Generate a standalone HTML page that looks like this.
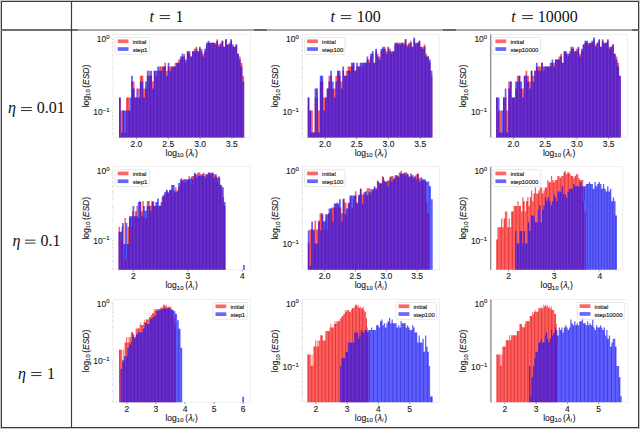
<!DOCTYPE html><html><head><meta charset="utf-8"><style>html,body{margin:0;padding:0;background:#fff;overflow:hidden}svg{display:block}</style></head><body>
<svg width="640" height="429" viewBox="0 0 640 429" font-family="Liberation Sans, sans-serif">
<rect x="0" y="0" width="640" height="429" fill="#fff"/>
<clipPath id="c00"><rect x="113" y="34.5" width="137.5" height="103"/></clipPath>
<rect x="113" y="34.5" width="137.5" height="103" fill="none" stroke="#ececec" stroke-width="0.8"/>
<path fill="rgba(255,0,0,0.63)" clip-path="url(#c00)" d="M119.01 139.5V97.59H120.75V110.43H122.49V110.43H124.23V132.38H125.96V97.59H127.7V97.59H129.44V110.43H131.18V81.42H132.92V81.42H134.66V97.59H136.39V97.59H138.13V88.49H139.87V75.65H141.61V75.65H143.35V88.49H145.09V88.49H146.83V75.65H148.56V70.77H150.3V75.65H152.04V81.42H153.78V70.77H155.52V75.65H157.26V70.77H158.99V66.54H160.73V66.54H162.47V66.54H164.21V62.81H165.95V70.77H167.69V66.54H169.43V66.54H171.16V66.54H172.9V66.54H174.64V62.81H176.38V62.81H178.12V59.48H179.86V59.48H181.6V56.46H183.33V53.7H185.07V62.81H186.81V51.17H188.55V53.7H190.29V56.46H192.03V51.17H193.76V48.82H195.5V46.64H197.24V51.17H198.98V48.82H200.72V48.82H202.46V53.7H204.2V51.17H205.93V44.6H207.67V42.68H209.41V42.68H211.15V42.68H212.89V42.68H214.63V42.68H216.36V39.15H218.1V44.6H219.84V42.68H221.58V40.87H223.32V46.64H225.06V39.15H226.8V44.6H228.53V42.68H230.27V40.87H232.01V46.64H233.75V46.64H235.49V44.6H237.23V53.7H238.96V56.46H240.7V62.81H242.44V75.65H244.18V139.5Z"/>
<path fill="none" stroke="rgba(170,0,0,0.55)" stroke-width="0.7" clip-path="url(#c00)" d="M127.7 97.59V110.43M141.61 75.65V81.42M160.73 66.54V70.77"/>
<path fill="rgba(0,0,255,0.63)" clip-path="url(#c00)" d="M119.01 139.5V97.59H120.75V132.38H122.49V110.43H124.23V110.43H125.96V110.43H127.7V110.43H129.44V97.59H131.18V75.65H132.92V88.49H134.66V97.59H136.39V88.49H138.13V97.59H139.87V81.42H141.61V81.42H143.35V97.59H145.09V81.42H146.83V70.77H148.56V75.65H150.3V70.77H152.04V88.49H153.78V70.77H155.52V70.77H157.26V66.54H158.99V70.77H160.73V70.77H162.47V66.54H164.21V66.54H165.95V75.65H167.69V62.81H169.43V70.77H171.16V66.54H172.9V66.54H174.64V66.54H176.38V62.81H178.12V62.81H179.86V56.46H181.6V53.7H183.33V56.46H185.07V59.48H186.81V51.17H188.55V51.17H190.29V56.46H192.03V51.17H193.76V51.17H195.5V48.82H197.24V51.17H198.98V46.64H200.72V51.17H202.46V56.46H204.2V48.82H205.93V42.68H207.67V40.87H209.41V42.68H211.15V42.68H212.89V42.68H214.63V44.6H216.36V40.87H218.1V46.64H219.84V44.6H221.58V40.87H223.32V46.64H225.06V39.15H226.8V44.6H228.53V44.6H230.27V39.15H232.01V44.6H233.75V46.64H235.49V44.6H237.23V53.7H238.96V59.48H240.7V66.54H242.44V81.42H244.18V139.5Z"/>
<path fill="none" stroke="rgba(255,255,255,0.13)" stroke-width="0.8" clip-path="url(#c00)" d="M120.75 132.38V137.5M124.23 132.38V137.5M127.7 110.43V137.5M131.18 110.43V137.5M134.66 97.59V137.5M138.13 97.59V137.5M141.61 81.42V137.5M145.09 97.59V137.5M148.56 75.65V137.5M152.04 88.49V137.5M155.52 75.65V137.5M158.99 70.77V137.5M162.47 70.77V137.5M165.95 75.65V137.5M169.43 70.77V137.5M172.9 66.54V137.5M176.38 66.54V137.5M179.86 62.81V137.5M183.33 56.46V137.5M186.81 62.81V137.5M190.29 56.46V137.5M193.76 51.17V137.5M197.24 51.17V137.5M200.72 51.17V137.5M204.2 56.46V137.5M207.67 44.6V137.5M211.15 42.68V137.5M214.63 44.6V137.5M218.1 46.64V137.5M221.58 44.6V137.5M225.06 46.64V137.5M228.53 44.6V137.5M232.01 46.64V137.5M235.49 46.64V137.5M238.96 59.48V137.5M242.44 81.42V137.5"/>
<line x1="136.4" y1="137.5" x2="136.4" y2="139.1" stroke="#444" stroke-width="0.6"/>
<text x="136.4" y="147" font-size="8.5" text-anchor="middle" fill="#1a1a1a" stroke="#1a1a1a" stroke-width="0.12">2.0</text>
<line x1="168.25" y1="137.5" x2="168.25" y2="139.1" stroke="#444" stroke-width="0.6"/>
<text x="168.25" y="147" font-size="8.5" text-anchor="middle" fill="#1a1a1a" stroke="#1a1a1a" stroke-width="0.12">2.5</text>
<line x1="200.1" y1="137.5" x2="200.1" y2="139.1" stroke="#444" stroke-width="0.6"/>
<text x="200.1" y="147" font-size="8.5" text-anchor="middle" fill="#1a1a1a" stroke="#1a1a1a" stroke-width="0.12">3.0</text>
<line x1="231.95" y1="137.5" x2="231.95" y2="139.1" stroke="#444" stroke-width="0.6"/>
<text x="231.95" y="147" font-size="8.5" text-anchor="middle" fill="#1a1a1a" stroke="#1a1a1a" stroke-width="0.12">3.5</text>
<line x1="111.8" y1="39.3" x2="113" y2="39.3" stroke="#aaa" stroke-width="0.5"/>
<line x1="111.8" y1="112.2" x2="113" y2="112.2" stroke="#aaa" stroke-width="0.5"/>
<line x1="111.8" y1="90.25" x2="113" y2="90.25" stroke="#aaa" stroke-width="0.5"/>
<line x1="111.8" y1="77.42" x2="113" y2="77.42" stroke="#aaa" stroke-width="0.5"/>
<line x1="111.8" y1="68.31" x2="113" y2="68.31" stroke="#aaa" stroke-width="0.5"/>
<line x1="111.8" y1="61.25" x2="113" y2="61.25" stroke="#aaa" stroke-width="0.5"/>
<line x1="111.8" y1="55.47" x2="113" y2="55.47" stroke="#aaa" stroke-width="0.5"/>
<line x1="111.8" y1="50.59" x2="113" y2="50.59" stroke="#aaa" stroke-width="0.5"/>
<line x1="111.8" y1="46.36" x2="113" y2="46.36" stroke="#aaa" stroke-width="0.5"/>
<line x1="111.8" y1="42.64" x2="113" y2="42.64" stroke="#aaa" stroke-width="0.5"/>
<line x1="111.8" y1="134.15" x2="113" y2="134.15" stroke="#aaa" stroke-width="0.5"/>
<line x1="111.8" y1="128.37" x2="113" y2="128.37" stroke="#aaa" stroke-width="0.5"/>
<line x1="111.8" y1="123.49" x2="113" y2="123.49" stroke="#aaa" stroke-width="0.5"/>
<line x1="111.8" y1="119.26" x2="113" y2="119.26" stroke="#aaa" stroke-width="0.5"/>
<line x1="111.8" y1="115.54" x2="113" y2="115.54" stroke="#aaa" stroke-width="0.5"/>
<text x="109.5" y="42.3" font-size="8.5" text-anchor="end" fill="#1a1a1a" stroke="#1a1a1a" stroke-width="0.12">10<tspan font-size="6" dy="-3.4">0</tspan></text>
<text x="109.5" y="115.2" font-size="8.5" text-anchor="end" fill="#1a1a1a" stroke="#1a1a1a" stroke-width="0.12">10<tspan font-size="6" dy="-3.4">−1</tspan></text>
<text transform="translate(88.5,86) rotate(-90)" font-size="8.5" text-anchor="middle" fill="#1a1a1a" stroke="#1a1a1a" stroke-width="0.12">log<tspan font-size="6" dy="1.7">10</tspan><tspan dy="-1.7" dx="1.4">(</tspan><tspan font-style="italic">ESD</tspan>)</text>
<text x="181.75" y="155.7" font-size="8.5" text-anchor="middle" fill="#1a1a1a" stroke="#1a1a1a" stroke-width="0.12">log<tspan font-size="6" dy="1.7">10</tspan><tspan dy="-1.7" dx="1.8">(</tspan><tspan font-style="italic" dx="0.4">λ</tspan><tspan font-size="6" font-style="italic" dy="1.5">i</tspan><tspan dy="-1.5" dx="0.9">)</tspan></text>
<rect x="115.2" y="37.5" width="34.3" height="16.8" rx="1.2" fill="rgba(255,255,255,0.85)" stroke="#dedede" stroke-width="0.7"/>
<rect x="117.7" y="39.4" width="10.8" height="3.7" fill="rgba(255,0,0,0.6)"/>
<rect x="117.7" y="47.2" width="10.8" height="3.7" fill="rgba(0,0,255,0.6)"/>
<text x="132.7" y="44" font-size="6" fill="#1a1a1a" stroke="#1a1a1a" stroke-width="0.15">initial</text>
<text x="132.7" y="52" font-size="6" fill="#1a1a1a" stroke="#1a1a1a" stroke-width="0.15">step1</text>
<clipPath id="c01"><rect x="302.4" y="34.5" width="136.8" height="103"/></clipPath>
<rect x="302.4" y="34.5" width="136.8" height="103" fill="none" stroke="#ececec" stroke-width="0.8"/>
<path fill="rgba(255,0,0,0.63)" clip-path="url(#c01)" d="M307.66 139.5V97.59H309.4V110.43H311.13V110.43H312.86V132.38H314.6V97.59H316.33V97.59H318.06V110.43H319.8V81.42H321.53V81.42H323.26V97.59H324.99V97.59H326.73V88.49H328.46V75.65H330.19V75.65H331.93V88.49H333.66V88.49H335.39V75.65H337.13V70.77H338.86V75.65H340.59V81.42H342.32V70.77H344.06V75.65H345.79V70.77H347.52V66.54H349.26V66.54H350.99V66.54H352.72V62.81H354.46V70.77H356.19V66.54H357.92V66.54H359.66V66.54H361.39V66.54H363.12V62.81H364.85V62.81H366.59V59.48H368.32V59.48H370.05V56.46H371.79V53.7H373.52V62.81H375.25V51.17H376.99V53.7H378.72V56.46H380.45V51.17H382.18V48.82H383.92V46.64H385.65V51.17H387.38V48.82H389.12V48.82H390.85V53.7H392.58V51.17H394.32V44.6H396.05V42.68H397.78V42.68H399.51V42.68H401.25V42.68H402.98V42.68H404.71V39.15H406.45V44.6H408.18V42.68H409.91V40.87H411.65V46.64H413.38V39.15H415.11V44.6H416.84V42.68H418.58V40.87H420.31V46.64H422.04V46.64H423.78V44.6H425.51V53.7H427.24V56.46H428.98V62.81H430.71V75.65H432.44V139.5Z"/>
<path fill="none" stroke="rgba(170,0,0,0.55)" stroke-width="0.7" clip-path="url(#c01)" d="M349.26 66.54V70.77M399.51 42.68V44.6"/>
<path fill="rgba(0,0,255,0.63)" clip-path="url(#c01)" d="M307.66 139.5V97.59H309.4V110.43H311.13V132.38H312.86V132.38H314.6V88.49H316.33V88.49H318.06V132.38H319.8V75.65H321.53V75.65H323.26V110.43H324.99V97.59H326.73V88.49H328.46V81.42H330.19V70.77H331.93V81.42H333.66V97.59H335.39V81.42H337.13V70.77H338.86V70.77H340.59V88.49H342.32V66.54H344.06V75.65H345.79V75.65H347.52V70.77H349.26V70.77H350.99V62.81H352.72V62.81H354.46V70.77H356.19V62.81H357.92V66.54H359.66V62.81H361.39V62.81H363.12V62.81H364.85V62.81H366.59V56.46H368.32V62.81H370.05V53.7H371.79V51.17H373.52V62.81H375.25V48.82H376.99V56.46H378.72V59.48H380.45V48.82H382.18V46.64H383.92V48.82H385.65V53.7H387.38V46.64H389.12V51.17H390.85V51.17H392.58V51.17H394.32V42.68H396.05V42.68H397.78V44.6H399.51V44.6H401.25V42.68H402.98V44.6H404.71V39.15H406.45V46.64H408.18V44.6H409.91V42.68H411.65V46.64H413.38V37.53H415.11V42.68H416.84V42.68H418.58V40.87H420.31V46.64H422.04V48.82H423.78V46.64H425.51V56.46H427.24V56.46H428.98V59.48H430.71V70.77H432.44V139.5Z"/>
<path fill="none" stroke="rgba(0,0,150,0.45)" stroke-width="0.7" clip-path="url(#c01)" d="M316.33 88.49V97.59M321.53 75.65V81.42M361.39 62.81V66.54"/>
<path fill="none" stroke="rgba(255,255,255,0.13)" stroke-width="0.8" clip-path="url(#c01)" d="M309.4 110.43V137.5M312.86 132.38V137.5M316.33 97.59V137.5M319.8 132.38V137.5M323.26 110.43V137.5M326.73 97.59V137.5M330.19 81.42V137.5M333.66 97.59V137.5M337.13 81.42V137.5M340.59 88.49V137.5M344.06 75.65V137.5M347.52 75.65V137.5M350.99 70.77V137.5M354.46 70.77V137.5M357.92 66.54V137.5M361.39 66.54V137.5M364.85 62.81V137.5M368.32 62.81V137.5M371.79 56.46V137.5M375.25 62.81V137.5M378.72 59.48V137.5M382.18 51.17V137.5M385.65 53.7V137.5M389.12 51.17V137.5M392.58 53.7V137.5M396.05 44.6V137.5M399.51 44.6V137.5M402.98 44.6V137.5M406.45 46.64V137.5M409.91 44.6V137.5M413.38 46.64V137.5M416.84 44.6V137.5M420.31 46.64V137.5M423.78 48.82V137.5M427.24 56.46V137.5M430.71 75.65V137.5"/>
<line x1="325" y1="137.5" x2="325" y2="139.1" stroke="#444" stroke-width="0.6"/>
<text x="325" y="147" font-size="8.5" text-anchor="middle" fill="#1a1a1a" stroke="#1a1a1a" stroke-width="0.12">2.0</text>
<line x1="356.75" y1="137.5" x2="356.75" y2="139.1" stroke="#444" stroke-width="0.6"/>
<text x="356.75" y="147" font-size="8.5" text-anchor="middle" fill="#1a1a1a" stroke="#1a1a1a" stroke-width="0.12">2.5</text>
<line x1="388.5" y1="137.5" x2="388.5" y2="139.1" stroke="#444" stroke-width="0.6"/>
<text x="388.5" y="147" font-size="8.5" text-anchor="middle" fill="#1a1a1a" stroke="#1a1a1a" stroke-width="0.12">3.0</text>
<line x1="420.25" y1="137.5" x2="420.25" y2="139.1" stroke="#444" stroke-width="0.6"/>
<text x="420.25" y="147" font-size="8.5" text-anchor="middle" fill="#1a1a1a" stroke="#1a1a1a" stroke-width="0.12">3.5</text>
<line x1="301.2" y1="39.3" x2="302.4" y2="39.3" stroke="#aaa" stroke-width="0.5"/>
<line x1="301.2" y1="112.2" x2="302.4" y2="112.2" stroke="#aaa" stroke-width="0.5"/>
<line x1="301.2" y1="90.25" x2="302.4" y2="90.25" stroke="#aaa" stroke-width="0.5"/>
<line x1="301.2" y1="77.42" x2="302.4" y2="77.42" stroke="#aaa" stroke-width="0.5"/>
<line x1="301.2" y1="68.31" x2="302.4" y2="68.31" stroke="#aaa" stroke-width="0.5"/>
<line x1="301.2" y1="61.25" x2="302.4" y2="61.25" stroke="#aaa" stroke-width="0.5"/>
<line x1="301.2" y1="55.47" x2="302.4" y2="55.47" stroke="#aaa" stroke-width="0.5"/>
<line x1="301.2" y1="50.59" x2="302.4" y2="50.59" stroke="#aaa" stroke-width="0.5"/>
<line x1="301.2" y1="46.36" x2="302.4" y2="46.36" stroke="#aaa" stroke-width="0.5"/>
<line x1="301.2" y1="42.64" x2="302.4" y2="42.64" stroke="#aaa" stroke-width="0.5"/>
<line x1="301.2" y1="134.15" x2="302.4" y2="134.15" stroke="#aaa" stroke-width="0.5"/>
<line x1="301.2" y1="128.37" x2="302.4" y2="128.37" stroke="#aaa" stroke-width="0.5"/>
<line x1="301.2" y1="123.49" x2="302.4" y2="123.49" stroke="#aaa" stroke-width="0.5"/>
<line x1="301.2" y1="119.26" x2="302.4" y2="119.26" stroke="#aaa" stroke-width="0.5"/>
<line x1="301.2" y1="115.54" x2="302.4" y2="115.54" stroke="#aaa" stroke-width="0.5"/>
<text x="298.9" y="42.3" font-size="8.5" text-anchor="end" fill="#1a1a1a" stroke="#1a1a1a" stroke-width="0.12">10<tspan font-size="6" dy="-3.4">0</tspan></text>
<text x="298.9" y="115.2" font-size="8.5" text-anchor="end" fill="#1a1a1a" stroke="#1a1a1a" stroke-width="0.12">10<tspan font-size="6" dy="-3.4">−1</tspan></text>
<text transform="translate(277.9,86) rotate(-90)" font-size="8.5" text-anchor="middle" fill="#1a1a1a" stroke="#1a1a1a" stroke-width="0.12">log<tspan font-size="6" dy="1.7">10</tspan><tspan dy="-1.7" dx="1.4">(</tspan><tspan font-style="italic">ESD</tspan>)</text>
<text x="370.8" y="155.7" font-size="8.5" text-anchor="middle" fill="#1a1a1a" stroke="#1a1a1a" stroke-width="0.12">log<tspan font-size="6" dy="1.7">10</tspan><tspan dy="-1.7" dx="1.8">(</tspan><tspan font-style="italic" dx="0.4">λ</tspan><tspan font-size="6" font-style="italic" dy="1.5">i</tspan><tspan dy="-1.5" dx="0.9">)</tspan></text>
<rect x="304.6" y="37.5" width="40.5" height="16.8" rx="1.2" fill="rgba(255,255,255,0.85)" stroke="#dedede" stroke-width="0.7"/>
<rect x="307.1" y="39.4" width="10.8" height="3.7" fill="rgba(255,0,0,0.6)"/>
<rect x="307.1" y="47.2" width="10.8" height="3.7" fill="rgba(0,0,255,0.6)"/>
<text x="322.1" y="44" font-size="6" fill="#1a1a1a" stroke="#1a1a1a" stroke-width="0.15">initial</text>
<text x="322.1" y="52" font-size="6" fill="#1a1a1a" stroke="#1a1a1a" stroke-width="0.15">step100</text>
<clipPath id="c02"><rect x="490.7" y="34.5" width="136.9" height="103"/></clipPath>
<rect x="490.7" y="34.5" width="136.9" height="103" fill="none" stroke="#ececec" stroke-width="0.8"/>
<path fill="rgba(255,0,0,0.63)" clip-path="url(#c02)" d="M496.06 139.5V97.59H497.8V110.43H499.53V110.43H501.26V132.38H503V97.59H504.73V97.59H506.46V110.43H508.2V81.42H509.93V81.42H511.66V97.59H513.39V97.59H515.13V88.49H516.86V75.65H518.59V75.65H520.33V88.49H522.06V88.49H523.79V75.65H525.53V70.77H527.26V75.65H528.99V81.42H530.72V70.77H532.46V75.65H534.19V70.77H535.92V66.54H537.66V66.54H539.39V66.54H541.12V62.81H542.86V70.77H544.59V66.54H546.32V66.54H548.06V66.54H549.79V66.54H551.52V62.81H553.25V62.81H554.99V59.48H556.72V59.48H558.45V56.46H560.19V53.7H561.92V62.81H563.65V51.17H565.39V53.7H567.12V56.46H568.85V51.17H570.58V48.82H572.32V46.64H574.05V51.17H575.78V48.82H577.52V48.82H579.25V53.7H580.98V51.17H582.72V44.6H584.45V42.68H586.18V42.68H587.91V42.68H589.65V42.68H591.38V42.68H593.11V39.15H594.85V44.6H596.58V42.68H598.31V40.87H600.05V46.64H601.78V39.15H603.51V44.6H605.24V42.68H606.98V40.87H608.71V46.64H610.44V46.64H612.18V44.6H613.91V53.7H615.64V56.46H617.38V62.81H619.11V75.65H620.84V139.5Z"/>
<path fill="none" stroke="rgba(170,0,0,0.55)" stroke-width="0.7" clip-path="url(#c02)" d="M539.39 66.54V70.77"/>
<path fill="rgba(0,0,255,0.63)" clip-path="url(#c02)" d="M496.06 139.5V97.59H497.8V97.59H499.53V132.38H501.26V110.43H503V97.59H504.73V88.49H506.46V132.38H508.2V88.49H509.93V81.42H511.66V97.59H513.39V97.59H515.13V81.42H516.86V81.42H518.59V75.65H520.33V81.42H522.06V97.59H523.79V75.65H525.53V75.65H527.26V81.42H528.99V88.49H530.72V70.77H532.46V81.42H534.19V70.77H535.92V62.81H537.66V70.77H539.39V70.77H541.12V62.81H542.86V66.54H544.59V66.54H546.32V66.54H548.06V66.54H549.79V62.81H551.52V59.48H553.25V66.54H554.99V59.48H556.72V59.48H558.45V59.48H560.19V56.46H561.92V62.81H563.65V51.17H565.39V51.17H567.12V53.7H568.85V53.7H570.58V46.64H572.32V48.82H574.05V51.17H575.78V51.17H577.52V46.64H579.25V56.46H580.98V48.82H582.72V44.6H584.45V40.87H586.18V40.87H587.91V44.6H589.65V42.68H591.38V40.87H593.11V37.53H594.85V46.64H596.58V42.68H598.31V39.15H600.05V46.64H601.78V40.87H603.51V42.68H605.24V42.68H606.98V39.15H608.71V48.82H610.44V46.64H612.18V44.6H613.91V53.7H615.64V59.48H617.38V66.54H619.11V75.65H620.84V139.5Z"/>
<path fill="none" stroke="rgba(0,0,150,0.45)" stroke-width="0.7" clip-path="url(#c02)" d="M586.18 40.87V42.68"/>
<path fill="none" stroke="rgba(255,255,255,0.13)" stroke-width="0.8" clip-path="url(#c02)" d="M497.8 110.43V137.5M501.26 132.38V137.5M504.73 97.59V137.5M508.2 132.38V137.5M511.66 97.59V137.5M515.13 97.59V137.5M518.59 81.42V137.5M522.06 97.59V137.5M525.53 75.65V137.5M528.99 88.49V137.5M532.46 81.42V137.5M535.92 70.77V137.5M539.39 70.77V137.5M542.86 70.77V137.5M546.32 66.54V137.5M549.79 66.54V137.5M553.25 66.54V137.5M556.72 59.48V137.5M560.19 59.48V137.5M563.65 62.81V137.5M567.12 56.46V137.5M570.58 53.7V137.5M574.05 51.17V137.5M577.52 51.17V137.5M580.98 56.46V137.5M584.45 44.6V137.5M587.91 44.6V137.5M591.38 42.68V137.5M594.85 46.64V137.5M598.31 42.68V137.5M601.78 46.64V137.5M605.24 44.6V137.5M608.71 48.82V137.5M612.18 46.64V137.5M615.64 59.48V137.5M619.11 75.65V137.5"/>
<line x1="490.7" y1="34.5" x2="490.7" y2="137.5" stroke="#8a8a8a" stroke-width="1.3"/>
<line x1="513.4" y1="137.5" x2="513.4" y2="139.1" stroke="#444" stroke-width="0.6"/>
<text x="513.4" y="147" font-size="8.5" text-anchor="middle" fill="#1a1a1a" stroke="#1a1a1a" stroke-width="0.12">2.0</text>
<line x1="545.15" y1="137.5" x2="545.15" y2="139.1" stroke="#444" stroke-width="0.6"/>
<text x="545.15" y="147" font-size="8.5" text-anchor="middle" fill="#1a1a1a" stroke="#1a1a1a" stroke-width="0.12">2.5</text>
<line x1="576.9" y1="137.5" x2="576.9" y2="139.1" stroke="#444" stroke-width="0.6"/>
<text x="576.9" y="147" font-size="8.5" text-anchor="middle" fill="#1a1a1a" stroke="#1a1a1a" stroke-width="0.12">3.0</text>
<line x1="608.65" y1="137.5" x2="608.65" y2="139.1" stroke="#444" stroke-width="0.6"/>
<text x="608.65" y="147" font-size="8.5" text-anchor="middle" fill="#1a1a1a" stroke="#1a1a1a" stroke-width="0.12">3.5</text>
<line x1="489.5" y1="39.3" x2="490.7" y2="39.3" stroke="#aaa" stroke-width="0.5"/>
<line x1="489.5" y1="112.2" x2="490.7" y2="112.2" stroke="#aaa" stroke-width="0.5"/>
<line x1="489.5" y1="90.25" x2="490.7" y2="90.25" stroke="#aaa" stroke-width="0.5"/>
<line x1="489.5" y1="77.42" x2="490.7" y2="77.42" stroke="#aaa" stroke-width="0.5"/>
<line x1="489.5" y1="68.31" x2="490.7" y2="68.31" stroke="#aaa" stroke-width="0.5"/>
<line x1="489.5" y1="61.25" x2="490.7" y2="61.25" stroke="#aaa" stroke-width="0.5"/>
<line x1="489.5" y1="55.47" x2="490.7" y2="55.47" stroke="#aaa" stroke-width="0.5"/>
<line x1="489.5" y1="50.59" x2="490.7" y2="50.59" stroke="#aaa" stroke-width="0.5"/>
<line x1="489.5" y1="46.36" x2="490.7" y2="46.36" stroke="#aaa" stroke-width="0.5"/>
<line x1="489.5" y1="42.64" x2="490.7" y2="42.64" stroke="#aaa" stroke-width="0.5"/>
<line x1="489.5" y1="134.15" x2="490.7" y2="134.15" stroke="#aaa" stroke-width="0.5"/>
<line x1="489.5" y1="128.37" x2="490.7" y2="128.37" stroke="#aaa" stroke-width="0.5"/>
<line x1="489.5" y1="123.49" x2="490.7" y2="123.49" stroke="#aaa" stroke-width="0.5"/>
<line x1="489.5" y1="119.26" x2="490.7" y2="119.26" stroke="#aaa" stroke-width="0.5"/>
<line x1="489.5" y1="115.54" x2="490.7" y2="115.54" stroke="#aaa" stroke-width="0.5"/>
<text x="487.2" y="42.3" font-size="8.5" text-anchor="end" fill="#1a1a1a" stroke="#1a1a1a" stroke-width="0.12">10<tspan font-size="6" dy="-3.4">0</tspan></text>
<text x="487.2" y="115.2" font-size="8.5" text-anchor="end" fill="#1a1a1a" stroke="#1a1a1a" stroke-width="0.12">10<tspan font-size="6" dy="-3.4">−1</tspan></text>
<text transform="translate(466.2,86) rotate(-90)" font-size="8.5" text-anchor="middle" fill="#1a1a1a" stroke="#1a1a1a" stroke-width="0.12">log<tspan font-size="6" dy="1.7">10</tspan><tspan dy="-1.7" dx="1.4">(</tspan><tspan font-style="italic">ESD</tspan>)</text>
<text x="559.15" y="155.7" font-size="8.5" text-anchor="middle" fill="#1a1a1a" stroke="#1a1a1a" stroke-width="0.12">log<tspan font-size="6" dy="1.7">10</tspan><tspan dy="-1.7" dx="1.8">(</tspan><tspan font-style="italic" dx="0.4">λ</tspan><tspan font-size="6" font-style="italic" dy="1.5">i</tspan><tspan dy="-1.5" dx="0.9">)</tspan></text>
<rect x="492.9" y="37.5" width="47.8" height="16.8" rx="1.2" fill="rgba(255,255,255,0.85)" stroke="#dedede" stroke-width="0.7"/>
<rect x="495.4" y="39.4" width="10.8" height="3.7" fill="rgba(255,0,0,0.6)"/>
<rect x="495.4" y="47.2" width="10.8" height="3.7" fill="rgba(0,0,255,0.6)"/>
<text x="510.4" y="44" font-size="6" fill="#1a1a1a" stroke="#1a1a1a" stroke-width="0.15">initial</text>
<text x="510.4" y="52" font-size="6" fill="#1a1a1a" stroke="#1a1a1a" stroke-width="0.15">step10000</text>
<clipPath id="c10"><rect x="113" y="166.7" width="137.3" height="103.1"/></clipPath>
<rect x="113" y="166.7" width="137.3" height="103.1" fill="none" stroke="#ececec" stroke-width="0.8"/>
<path fill="rgba(255,0,0,0.63)" clip-path="url(#c10)" d="M118.52 271.8V226.72H120.01V239.01H121.5V226.72H122.98V260.02H124.47V217.99H125.96V260.02H127.45V226.72H128.93V217.99H130.42V226.72H131.91V211.23H133.4V217.99H134.88V211.23H136.37V205.7H137.86V217.99H139.35V201.03H140.83V211.23H142.32V201.03H143.81V217.99H145.29V217.99H146.78V201.03H148.27V201.03H149.76V205.7H151.24V201.03H152.73V201.03H154.22V205.7H155.71V205.7H157.19V205.7H158.68V205.7H160.17V205.7H161.66V196.98H163.14V196.98H164.63V193.41H166.12V190.22H167.61V193.41H169.09V190.22H170.58V190.22H172.07V193.41H173.56V190.22H175.04V187.33H176.53V190.22H178.02V187.33H179.5V184.69H180.99V177.93H182.48V180.02H183.97V182.26H185.45V182.26H186.94V180.02H188.43V175.97H189.92V184.69H191.4V175.97H192.89V175.97H194.38V174.13H195.87V177.93H197.35V172.4H198.84V172.4H200.33V174.13H201.82V174.13H203.3V175.97H204.79V174.13H206.28V174.13H207.77V172.4H209.25V174.13H210.74V174.13H212.23V172.4H213.71V174.13H215.2V175.97H216.69V182.26H218.18V175.97H219.66V184.69H221.15V190.22H222.64V196.98H224.13V205.7H225.61V271.8Z"/>
<path fill="none" stroke="rgba(170,0,0,0.55)" stroke-width="0.7" clip-path="url(#c10)" d="M128.93 226.72V244M136.37 211.23V216.23M142.32 211.23V216.23M148.27 201.03V206.03M151.24 205.7V210.7M175.04 190.22V192.32M178.02 190.22V192.32M182.48 180.02V180.97M192.89 175.97V179.13M198.84 172.4V175.76M201.82 174.13V175.76M204.79 175.97V177.4M213.71 174.13V177.4"/>
<path fill="rgba(0,0,255,0.63)" clip-path="url(#c10)" d="M118.52 271.8V231.71H120.28V231.71H122.03V222.99H123.78V244H125.54V222.99H127.29V244H129.04V216.23H130.8V216.23H132.55V206.03H134.31V216.23H136.06V216.23H137.81V201.98H139.57V201.98H141.32V216.23H143.08V206.03H144.83V210.7H146.58V206.03H148.34V206.03H150.09V210.7H151.84V201.98H153.6V206.03H155.35V201.98H157.11V198.41H158.86V206.03H160.61V201.98H162.37V195.21H164.12V192.32H165.88V189.69H167.63V192.32H169.38V189.69H171.14V185.01H172.89V185.01H174.64V192.32H176.4V192.32H178.15V182.92H179.91V179.13H181.66V180.97H183.41V179.13H185.17V179.13H186.92V179.13H188.68V179.13H190.43V177.4H192.18V179.13H193.94V172.72H195.69V174.2H197.44V175.76H199.2V175.76H200.95V175.76H202.71V172.72H204.46V177.4H206.21V174.2H207.97V172.72H209.72V172.72H211.48V172.72H213.23V177.4H214.98V174.2H216.74V177.4H218.49V177.4H220.24V185.01H222V187.26H223.75V201.98H225.51V271.8ZM243.04 271.8V265.01H244.8V271.8Z"/>
<path fill="none" stroke="rgba(0,0,150,0.45)" stroke-width="0.7" clip-path="url(#c10)" d="M120.28 231.71V239.01M123.78 244V260.02M127.29 244V260.02M130.8 216.23V226.72M134.31 216.23V217.99M144.83 210.7V217.99M157.11 201.98V205.7M164.12 195.21V196.98M167.63 192.32V193.41M172.89 185.01V193.41M179.91 182.92V184.69M185.17 179.13V182.26M190.43 179.13V184.69M209.72 172.72V174.13M216.74 177.4V182.26M222 187.26V190.22"/>
<path fill="none" stroke="rgba(255,255,255,0.13)" stroke-width="0.8" clip-path="url(#c10)" d="M120.28 239.01V269.8M123.78 260.02V269.8M127.29 260.02V269.8M130.8 226.72V269.8M134.31 217.99V269.8M137.81 216.23V269.8M141.32 216.23V269.8M144.83 217.99V269.8M148.34 206.03V269.8M151.84 210.7V269.8M155.35 206.03V269.8M158.86 206.03V269.8M162.37 201.98V269.8M165.88 193.41V269.8M169.38 192.32V269.8M172.89 193.41V269.8M176.4 192.32V269.8M179.91 184.69V269.8M183.41 180.97V269.8M186.92 182.26V269.8M190.43 184.69V269.8M193.94 179.13V269.8M197.44 175.76V269.8M200.95 175.76V269.8M204.46 177.4V269.8M207.97 174.2V269.8M211.48 174.13V269.8M214.98 177.4V269.8M218.49 177.4V269.8M222 190.22V269.8"/>
<line x1="133.4" y1="269.8" x2="133.4" y2="271.4" stroke="#444" stroke-width="0.6"/>
<text x="133.4" y="279.3" font-size="8.5" text-anchor="middle" fill="#1a1a1a" stroke="#1a1a1a" stroke-width="0.12">2</text>
<line x1="187.9" y1="269.8" x2="187.9" y2="271.4" stroke="#444" stroke-width="0.6"/>
<text x="187.9" y="279.3" font-size="8.5" text-anchor="middle" fill="#1a1a1a" stroke="#1a1a1a" stroke-width="0.12">3</text>
<line x1="242.4" y1="269.8" x2="242.4" y2="271.4" stroke="#444" stroke-width="0.6"/>
<text x="242.4" y="279.3" font-size="8.5" text-anchor="middle" fill="#1a1a1a" stroke="#1a1a1a" stroke-width="0.12">4</text>
<line x1="111.8" y1="170.9" x2="113" y2="170.9" stroke="#aaa" stroke-width="0.5"/>
<line x1="111.8" y1="240.7" x2="113" y2="240.7" stroke="#aaa" stroke-width="0.5"/>
<line x1="111.8" y1="219.69" x2="113" y2="219.69" stroke="#aaa" stroke-width="0.5"/>
<line x1="111.8" y1="207.4" x2="113" y2="207.4" stroke="#aaa" stroke-width="0.5"/>
<line x1="111.8" y1="198.68" x2="113" y2="198.68" stroke="#aaa" stroke-width="0.5"/>
<line x1="111.8" y1="191.91" x2="113" y2="191.91" stroke="#aaa" stroke-width="0.5"/>
<line x1="111.8" y1="186.39" x2="113" y2="186.39" stroke="#aaa" stroke-width="0.5"/>
<line x1="111.8" y1="181.71" x2="113" y2="181.71" stroke="#aaa" stroke-width="0.5"/>
<line x1="111.8" y1="177.66" x2="113" y2="177.66" stroke="#aaa" stroke-width="0.5"/>
<line x1="111.8" y1="174.09" x2="113" y2="174.09" stroke="#aaa" stroke-width="0.5"/>
<line x1="111.8" y1="268.48" x2="113" y2="268.48" stroke="#aaa" stroke-width="0.5"/>
<line x1="111.8" y1="261.71" x2="113" y2="261.71" stroke="#aaa" stroke-width="0.5"/>
<line x1="111.8" y1="256.19" x2="113" y2="256.19" stroke="#aaa" stroke-width="0.5"/>
<line x1="111.8" y1="251.51" x2="113" y2="251.51" stroke="#aaa" stroke-width="0.5"/>
<line x1="111.8" y1="247.46" x2="113" y2="247.46" stroke="#aaa" stroke-width="0.5"/>
<line x1="111.8" y1="243.89" x2="113" y2="243.89" stroke="#aaa" stroke-width="0.5"/>
<text x="109.5" y="173.9" font-size="8.5" text-anchor="end" fill="#1a1a1a" stroke="#1a1a1a" stroke-width="0.12">10<tspan font-size="6" dy="-3.4">0</tspan></text>
<text x="109.5" y="243.7" font-size="8.5" text-anchor="end" fill="#1a1a1a" stroke="#1a1a1a" stroke-width="0.12">10<tspan font-size="6" dy="-3.4">−1</tspan></text>
<text transform="translate(88.5,218.25) rotate(-90)" font-size="8.5" text-anchor="middle" fill="#1a1a1a" stroke="#1a1a1a" stroke-width="0.12">log<tspan font-size="6" dy="1.7">10</tspan><tspan dy="-1.7" dx="1.4">(</tspan><tspan font-style="italic">ESD</tspan>)</text>
<text x="181.65" y="288" font-size="8.5" text-anchor="middle" fill="#1a1a1a" stroke="#1a1a1a" stroke-width="0.12">log<tspan font-size="6" dy="1.7">10</tspan><tspan dy="-1.7" dx="1.8">(</tspan><tspan font-style="italic" dx="0.4">λ</tspan><tspan font-size="6" font-style="italic" dy="1.5">i</tspan><tspan dy="-1.5" dx="0.9">)</tspan></text>
<rect x="115.2" y="169.7" width="34.3" height="16.8" rx="1.2" fill="rgba(255,255,255,0.85)" stroke="#dedede" stroke-width="0.7"/>
<rect x="117.7" y="171.6" width="10.8" height="3.7" fill="rgba(255,0,0,0.6)"/>
<rect x="117.7" y="179.4" width="10.8" height="3.7" fill="rgba(0,0,255,0.6)"/>
<text x="132.7" y="176.2" font-size="6" fill="#1a1a1a" stroke="#1a1a1a" stroke-width="0.15">initial</text>
<text x="132.7" y="184.2" font-size="6" fill="#1a1a1a" stroke="#1a1a1a" stroke-width="0.15">step1</text>
<clipPath id="c11"><rect x="302.4" y="166.7" width="137" height="103.1"/></clipPath>
<rect x="302.4" y="166.7" width="137" height="103.1" fill="none" stroke="#ececec" stroke-width="0.8"/>
<path fill="rgba(255,0,0,0.63)" clip-path="url(#c11)" d="M307.76 271.8V242.52H309.44V229.59H311.12V229.59H312.81V229.59H314.49V220.42H316.18V229.59H317.86V220.42H319.54V213.31H321.23V213.31H322.91V229.59H324.59V220.42H326.28V229.59H327.96V213.31H329.65V213.31H331.33V207.5H333.01V207.5H334.7V207.5H336.38V202.58H338.07V207.5H339.75V207.5H341.43V213.31H343.12V198.33H344.8V202.58H346.49V213.31H348.17V202.58H349.85V198.33H351.54V207.5H353.22V198.33H354.9V191.21H356.59V202.58H358.27V194.57H359.96V188.18H361.64V194.57H363.32V194.57H365.01V191.21H366.69V188.18H368.38V188.18H370.06V194.57H371.74V191.21H373.43V188.18H375.11V188.18H376.8V180.49H378.48V182.85H380.16V182.85H381.85V176.23H383.53V180.49H385.22V182.85H386.9V180.49H388.58V180.49H390.27V176.23H391.95V176.23H393.63V178.29H395.32V176.23H397V176.23H398.69V172.48H400.37V170.75H402.05V174.3H403.74V172.48H405.42V172.48H407.11V174.3H408.79V176.23H410.47V176.23H412.16V178.29H413.84V176.23H415.53V174.3H417.21V174.3H418.89V178.29H420.58V180.49H422.26V180.49H423.94V180.49H425.63V202.58H427.31V213.31H429V271.8Z"/>
<path fill="none" stroke="rgba(170,0,0,0.55)" stroke-width="0.7" clip-path="url(#c11)" d="M311.12 229.59V265.57M314.49 229.59V230.55M317.86 229.59V243.48M321.23 213.31V230.55M333.01 207.5V221.38M341.43 213.31V221.38M344.8 202.58V214.27M356.59 202.58V203.54M361.64 194.57V203.54M366.69 191.21V192.17M376.8 188.18V189.13M380.16 182.85V183.81M388.58 180.49V186.36M391.95 176.23V181.45M398.69 176.23V177.19M405.42 172.48V175.26M408.79 176.23V177.19M415.53 176.23V179.25M418.89 178.29V181.45"/>
<path fill="rgba(0,0,255,0.63)" clip-path="url(#c11)" d="M307.76 271.8V230.55H309.49V265.57H311.23V221.38H312.96V230.55H314.7V243.48H316.43V243.48H318.17V221.38H319.9V230.55H321.64V214.27H323.37V221.38H325.11V214.27H326.84V214.27H328.58V208.46H330.31V208.46H332.05V221.38H333.79V203.54H335.52V203.54H337.26V203.54H338.99V199.29H340.73V221.38H342.46V199.29H344.2V214.27H345.93V208.46H347.67V203.54H349.4V195.53H351.14V195.53H352.87V195.53H354.61V195.53H356.34V203.54H358.08V195.53H359.82V189.13H361.55V203.54H363.29V192.17H365.02V192.17H366.76V195.53H368.49V192.17H370.23V189.13H371.96V189.13H373.7V186.36H375.43V189.13H377.17V181.45H378.9V183.81H380.64V183.81H382.37V177.19H384.11V181.45H385.84V181.45H387.58V186.36H389.32V177.19H391.05V181.45H392.79V179.25H394.52V175.26H396.26V175.26H397.99V177.19H399.73V173.44H401.46V173.44H403.2V173.44H404.93V175.26H406.67V173.44H408.4V177.19H410.14V173.44H411.87V175.26H413.61V177.19H415.35V179.25H417.08V173.44H418.82V181.45H420.55V177.19H422.29V179.25H424.02V179.25H425.76V181.45H427.49V181.45H429.23V186.36H430.96V199.29H432.7V271.8Z"/>
<path fill="none" stroke="rgba(0,0,150,0.45)" stroke-width="0.7" clip-path="url(#c11)" d="M323.37 221.38V229.59M326.84 214.27V229.59M330.31 208.46V213.31M335.52 203.54V207.5M338.99 203.54V207.5M347.67 208.46V213.31M351.14 195.53V198.33M354.61 195.53V198.33M370.23 192.17V194.57M385.84 181.45V182.85M396.26 175.26V176.23M403.2 173.44V174.3M411.87 175.26V176.23M422.29 179.25V180.49M425.76 181.45V202.58M429.23 186.36V269.8"/>
<path fill="none" stroke="rgba(255,255,255,0.13)" stroke-width="0.8" clip-path="url(#c11)" d="M309.49 265.57V269.8M312.96 230.55V269.8M316.43 243.48V269.8M319.9 230.55V269.8M323.37 229.59V269.8M326.84 229.59V269.8M330.31 213.31V269.8M333.79 221.38V269.8M337.26 203.54V269.8M340.73 221.38V269.8M344.2 214.27V269.8M347.67 213.31V269.8M351.14 198.33V269.8M354.61 198.33V269.8M358.08 203.54V269.8M361.55 203.54V269.8M365.02 192.17V269.8M368.49 195.53V269.8M371.96 191.21V269.8M375.43 189.13V269.8M378.9 183.81V269.8M382.37 183.81V269.8M385.84 182.85V269.8M389.32 186.36V269.8M392.79 181.45V269.8M396.26 176.23V269.8M399.73 177.19V269.8M403.2 174.3V269.8M406.67 175.26V269.8M410.14 177.19V269.8M413.61 178.29V269.8M417.08 179.25V269.8M420.55 181.45V269.8M424.02 180.49V269.8M427.49 213.31V269.8"/>
<line x1="324.6" y1="269.8" x2="324.6" y2="271.4" stroke="#444" stroke-width="0.6"/>
<text x="324.6" y="279.3" font-size="8.5" text-anchor="middle" fill="#1a1a1a" stroke="#1a1a1a" stroke-width="0.12">2.0</text>
<line x1="355.45" y1="269.8" x2="355.45" y2="271.4" stroke="#444" stroke-width="0.6"/>
<text x="355.45" y="279.3" font-size="8.5" text-anchor="middle" fill="#1a1a1a" stroke="#1a1a1a" stroke-width="0.12">2.5</text>
<line x1="386.3" y1="269.8" x2="386.3" y2="271.4" stroke="#444" stroke-width="0.6"/>
<text x="386.3" y="279.3" font-size="8.5" text-anchor="middle" fill="#1a1a1a" stroke="#1a1a1a" stroke-width="0.12">3.0</text>
<line x1="417.15" y1="269.8" x2="417.15" y2="271.4" stroke="#444" stroke-width="0.6"/>
<text x="417.15" y="279.3" font-size="8.5" text-anchor="middle" fill="#1a1a1a" stroke="#1a1a1a" stroke-width="0.12">3.5</text>
<line x1="301.2" y1="170.9" x2="302.4" y2="170.9" stroke="#aaa" stroke-width="0.5"/>
<line x1="301.2" y1="244.3" x2="302.4" y2="244.3" stroke="#aaa" stroke-width="0.5"/>
<line x1="301.2" y1="222.2" x2="302.4" y2="222.2" stroke="#aaa" stroke-width="0.5"/>
<line x1="301.2" y1="209.28" x2="302.4" y2="209.28" stroke="#aaa" stroke-width="0.5"/>
<line x1="301.2" y1="200.11" x2="302.4" y2="200.11" stroke="#aaa" stroke-width="0.5"/>
<line x1="301.2" y1="193" x2="302.4" y2="193" stroke="#aaa" stroke-width="0.5"/>
<line x1="301.2" y1="187.18" x2="302.4" y2="187.18" stroke="#aaa" stroke-width="0.5"/>
<line x1="301.2" y1="182.27" x2="302.4" y2="182.27" stroke="#aaa" stroke-width="0.5"/>
<line x1="301.2" y1="178.01" x2="302.4" y2="178.01" stroke="#aaa" stroke-width="0.5"/>
<line x1="301.2" y1="174.26" x2="302.4" y2="174.26" stroke="#aaa" stroke-width="0.5"/>
<line x1="301.2" y1="266.4" x2="302.4" y2="266.4" stroke="#aaa" stroke-width="0.5"/>
<line x1="301.2" y1="260.58" x2="302.4" y2="260.58" stroke="#aaa" stroke-width="0.5"/>
<line x1="301.2" y1="255.67" x2="302.4" y2="255.67" stroke="#aaa" stroke-width="0.5"/>
<line x1="301.2" y1="251.41" x2="302.4" y2="251.41" stroke="#aaa" stroke-width="0.5"/>
<line x1="301.2" y1="247.66" x2="302.4" y2="247.66" stroke="#aaa" stroke-width="0.5"/>
<text x="298.9" y="173.9" font-size="8.5" text-anchor="end" fill="#1a1a1a" stroke="#1a1a1a" stroke-width="0.12">10<tspan font-size="6" dy="-3.4">0</tspan></text>
<text x="298.9" y="247.3" font-size="8.5" text-anchor="end" fill="#1a1a1a" stroke="#1a1a1a" stroke-width="0.12">10<tspan font-size="6" dy="-3.4">−1</tspan></text>
<text transform="translate(277.9,218.25) rotate(-90)" font-size="8.5" text-anchor="middle" fill="#1a1a1a" stroke="#1a1a1a" stroke-width="0.12">log<tspan font-size="6" dy="1.7">10</tspan><tspan dy="-1.7" dx="1.4">(</tspan><tspan font-style="italic">ESD</tspan>)</text>
<text x="370.9" y="288" font-size="8.5" text-anchor="middle" fill="#1a1a1a" stroke="#1a1a1a" stroke-width="0.12">log<tspan font-size="6" dy="1.7">10</tspan><tspan dy="-1.7" dx="1.8">(</tspan><tspan font-style="italic" dx="0.4">λ</tspan><tspan font-size="6" font-style="italic" dy="1.5">i</tspan><tspan dy="-1.5" dx="0.9">)</tspan></text>
<rect x="304.6" y="169.7" width="40.5" height="16.8" rx="1.2" fill="rgba(255,255,255,0.85)" stroke="#dedede" stroke-width="0.7"/>
<rect x="307.1" y="171.6" width="10.8" height="3.7" fill="rgba(255,0,0,0.6)"/>
<rect x="307.1" y="179.4" width="10.8" height="3.7" fill="rgba(0,0,255,0.6)"/>
<text x="322.1" y="176.2" font-size="6" fill="#1a1a1a" stroke="#1a1a1a" stroke-width="0.15">initial</text>
<text x="322.1" y="184.2" font-size="6" fill="#1a1a1a" stroke="#1a1a1a" stroke-width="0.15">step100</text>
<clipPath id="c12"><rect x="490.7" y="166.7" width="132" height="103.1"/></clipPath>
<rect x="490.7" y="166.7" width="132" height="103.1" fill="none" stroke="#ececec" stroke-width="0.8"/>
<path fill="rgba(255,0,0,0.63)" clip-path="url(#c12)" d="M496.15 271.8V239.59H497.4V227.19H498.64V227.19H499.88V227.19H501.13V218.4H502.37V227.19H503.62V218.4H504.86V211.58H506.11V211.58H507.35V227.19H508.6V218.4H509.84V227.19H511.09V211.58H512.33V211.58H513.57V206H514.82V206H516.06V206H517.31V201.29H518.55V206H519.8V206H521.04V211.58H522.29V197.21H523.53V201.29H524.77V211.58H526.02V201.29H527.26V197.21H528.51V206H529.75V197.21H531V190.38H532.24V201.29H533.49V193.61H534.73V187.47H535.98V193.61H537.22V193.61H538.46V190.38H539.71V187.47H540.95V187.47H542.2V193.61H543.44V190.38H544.69V187.47H545.93V187.47H547.18V180.1H548.42V182.36H549.66V182.36H550.91V176.01H552.15V180.1H553.4V182.36H554.64V180.1H555.89V180.1H557.13V176.01H558.38V176.01H559.62V177.99H560.87V176.01H562.11V176.01H563.35V172.41H564.6V170.76H565.84V174.16H567.09V172.41H568.33V172.41H569.58V174.16H570.82V176.01H572.07V176.01H573.31V177.99H574.55V176.01H575.8V174.16H577.04V174.16H578.29V177.99H579.53V180.1H580.78V180.1H582.02V180.1H583.27V201.29H584.51V211.58H585.76V271.8Z"/>
<path fill="none" stroke="rgba(170,0,0,0.55)" stroke-width="0.7" clip-path="url(#c12)" d="M497.4 239.59V269.8M501.13 227.19V269.8M504.86 218.4V269.8M508.6 227.19V269.8M512.33 211.58V269.8M516.06 206V231.12M519.8 206V231.12M523.53 201.29V243.51M527.26 201.29V243.51M531 197.21V215.5M534.73 193.61V215.5M538.46 193.61V209.93M542.2 193.61V209.93M545.93 187.47V197.53M549.66 182.36V201.13M553.4 182.36V194.31M557.13 180.1V201.13M560.87 177.99V191.39M564.6 172.41V194.31M568.33 172.41V191.39M572.07 176.01V188.73M575.8 176.01V186.29M579.53 180.1V186.29"/>
<path fill="rgba(0,0,255,0.63)" clip-path="url(#c12)" d="M515.12 271.8V231.12H516.54V243.51H517.95V243.51H519.37V231.12H520.78V231.12H522.2V243.51H523.61V231.12H525.02V243.51H526.44V243.51H527.85V222.32H529.27V231.12H530.68V215.5H532.1V215.5H533.51V215.5H534.93V222.32H536.34V222.32H537.76V209.93H539.17V205.21H540.59V222.32H542V209.93H543.42V205.21H544.83V197.53H546.25V201.13H547.66V197.53H549.08V201.13H550.49V205.21H551.91V201.13H553.32V194.31H554.74V197.53H556.15V201.13H557.57V191.39H558.98V191.39H560.4V191.39H561.81V186.29H563.23V194.31H564.64V194.31H566.06V197.53H567.47V191.39H568.89V188.73H570.3V188.73H571.72V188.73H573.13V184.02H574.55V186.29H575.96V186.29H577.37V186.29H578.79V186.29H580.2V181.91H581.62V186.29H583.03V186.29H584.45V186.29H585.86V184.02H587.28V184.02H588.69V181.91H590.11V184.02H591.52V184.02H592.94V188.73H594.35V181.91H595.77V186.29H597.18V184.02H598.6V181.91H600.01V184.02H601.43V188.73H602.84V184.02H604.26V188.73H605.67V191.39H607.09V186.29H608.5V191.39H609.92V188.73H611.33V201.13H612.75V197.53H614.16V201.13H615.58V215.5H616.99V271.8Z"/>
<path fill="none" stroke="rgba(0,0,150,0.45)" stroke-width="0.7" clip-path="url(#c12)" d="M584.45 186.29V201.29M587.28 184.02V269.8M590.11 184.02V269.8M592.94 188.73V269.8M595.77 186.29V269.8M598.6 184.02V269.8M601.43 188.73V269.8M604.26 188.73V269.8M607.09 191.39V269.8M609.92 191.39V269.8M612.75 201.13V269.8M615.58 215.5V269.8"/>
<path fill="none" stroke="rgba(255,255,255,0.13)" stroke-width="0.8" clip-path="url(#c12)" d="M516.54 243.51V269.8M519.37 243.51V269.8M522.2 243.51V269.8M525.02 243.51V269.8M527.85 243.51V269.8M530.68 231.12V269.8M533.51 215.5V269.8M536.34 222.32V269.8M539.17 209.93V269.8M542 222.32V269.8M544.83 205.21V269.8M547.66 201.13V269.8M550.49 205.21V269.8M553.32 201.13V269.8M556.15 201.13V269.8M558.98 191.39V269.8M561.81 191.39V269.8M564.64 194.31V269.8M567.47 197.53V269.8M570.3 188.73V269.8M573.13 188.73V269.8M575.96 186.29V269.8M578.79 186.29V269.8M581.62 186.29V269.8M584.45 201.29V269.8"/>
<line x1="490.7" y1="166.7" x2="490.7" y2="269.8" stroke="#8a8a8a" stroke-width="1.3"/>
<line x1="508.6" y1="269.8" x2="508.6" y2="271.4" stroke="#444" stroke-width="0.6"/>
<text x="508.6" y="279.3" font-size="8.5" text-anchor="middle" fill="#1a1a1a" stroke="#1a1a1a" stroke-width="0.12">2</text>
<line x1="554.2" y1="269.8" x2="554.2" y2="271.4" stroke="#444" stroke-width="0.6"/>
<text x="554.2" y="279.3" font-size="8.5" text-anchor="middle" fill="#1a1a1a" stroke="#1a1a1a" stroke-width="0.12">3</text>
<line x1="599.8" y1="269.8" x2="599.8" y2="271.4" stroke="#444" stroke-width="0.6"/>
<text x="599.8" y="279.3" font-size="8.5" text-anchor="middle" fill="#1a1a1a" stroke="#1a1a1a" stroke-width="0.12">4</text>
<line x1="489.5" y1="170.9" x2="490.7" y2="170.9" stroke="#aaa" stroke-width="0.5"/>
<line x1="489.5" y1="241.3" x2="490.7" y2="241.3" stroke="#aaa" stroke-width="0.5"/>
<line x1="489.5" y1="220.11" x2="490.7" y2="220.11" stroke="#aaa" stroke-width="0.5"/>
<line x1="489.5" y1="207.71" x2="490.7" y2="207.71" stroke="#aaa" stroke-width="0.5"/>
<line x1="489.5" y1="198.91" x2="490.7" y2="198.91" stroke="#aaa" stroke-width="0.5"/>
<line x1="489.5" y1="192.09" x2="490.7" y2="192.09" stroke="#aaa" stroke-width="0.5"/>
<line x1="489.5" y1="186.52" x2="490.7" y2="186.52" stroke="#aaa" stroke-width="0.5"/>
<line x1="489.5" y1="181.81" x2="490.7" y2="181.81" stroke="#aaa" stroke-width="0.5"/>
<line x1="489.5" y1="177.72" x2="490.7" y2="177.72" stroke="#aaa" stroke-width="0.5"/>
<line x1="489.5" y1="174.12" x2="490.7" y2="174.12" stroke="#aaa" stroke-width="0.5"/>
<line x1="489.5" y1="269.31" x2="490.7" y2="269.31" stroke="#aaa" stroke-width="0.5"/>
<line x1="489.5" y1="262.49" x2="490.7" y2="262.49" stroke="#aaa" stroke-width="0.5"/>
<line x1="489.5" y1="256.92" x2="490.7" y2="256.92" stroke="#aaa" stroke-width="0.5"/>
<line x1="489.5" y1="252.21" x2="490.7" y2="252.21" stroke="#aaa" stroke-width="0.5"/>
<line x1="489.5" y1="248.12" x2="490.7" y2="248.12" stroke="#aaa" stroke-width="0.5"/>
<line x1="489.5" y1="244.52" x2="490.7" y2="244.52" stroke="#aaa" stroke-width="0.5"/>
<text x="487.2" y="173.9" font-size="8.5" text-anchor="end" fill="#1a1a1a" stroke="#1a1a1a" stroke-width="0.12">10<tspan font-size="6" dy="-3.4">0</tspan></text>
<text x="487.2" y="244.3" font-size="8.5" text-anchor="end" fill="#1a1a1a" stroke="#1a1a1a" stroke-width="0.12">10<tspan font-size="6" dy="-3.4">−1</tspan></text>
<text transform="translate(466.2,218.25) rotate(-90)" font-size="8.5" text-anchor="middle" fill="#1a1a1a" stroke="#1a1a1a" stroke-width="0.12">log<tspan font-size="6" dy="1.7">10</tspan><tspan dy="-1.7" dx="1.4">(</tspan><tspan font-style="italic">ESD</tspan>)</text>
<text x="556.7" y="288" font-size="8.5" text-anchor="middle" fill="#1a1a1a" stroke="#1a1a1a" stroke-width="0.12">log<tspan font-size="6" dy="1.7">10</tspan><tspan dy="-1.7" dx="1.8">(</tspan><tspan font-style="italic" dx="0.4">λ</tspan><tspan font-size="6" font-style="italic" dy="1.5">i</tspan><tspan dy="-1.5" dx="0.9">)</tspan></text>
<rect x="492.9" y="169.7" width="47.8" height="16.8" rx="1.2" fill="rgba(255,255,255,0.85)" stroke="#dedede" stroke-width="0.7"/>
<rect x="495.4" y="171.6" width="10.8" height="3.7" fill="rgba(255,0,0,0.6)"/>
<rect x="495.4" y="179.4" width="10.8" height="3.7" fill="rgba(0,0,255,0.6)"/>
<text x="510.4" y="176.2" font-size="6" fill="#1a1a1a" stroke="#1a1a1a" stroke-width="0.15">initial</text>
<text x="510.4" y="184.2" font-size="6" fill="#1a1a1a" stroke="#1a1a1a" stroke-width="0.15">step10000</text>
<clipPath id="c20"><rect x="113" y="299.6" width="137.3" height="102.7"/></clipPath>
<rect x="113" y="299.6" width="137.3" height="102.7" fill="none" stroke="#ececec" stroke-width="0.8"/>
<path fill="rgba(255,0,0,0.63)" clip-path="url(#c20)" d="M118.97 404.3V349.72H119.76V349.72H120.55V349.72H121.35V349.72H122.14V359.9H122.93V349.72H123.73V359.9H124.52V342.5H125.31V342.5H126.1V336.9H126.9V342.5H127.69V336.9H128.48V342.5H129.28V336.9H130.07V336.9H130.86V332.32H131.65V332.32H132.45V332.32H133.24V336.9H134.03V336.9H134.83V336.9H135.62V328.45H136.41V328.45H137.2V328.45H138V328.45H138.79V328.45H139.58V325.1H140.38V322.14H141.17V325.1H141.96V325.1H142.75V325.1H143.55V322.14H144.34V319.5H145.13V322.14H145.93V319.5H146.72V319.5H147.51V319.5H148.3V319.5H149.1V317.1H149.89V317.1H150.68V314.92H151.48V314.92H152.27V312.91H153.06V312.91H153.85V309.32H154.65V311.05H155.44V309.32H156.23V309.32H157.02V309.32H157.82V311.05H158.61V311.05H159.4V309.32H160.2V307.7H160.99V307.7H161.78V307.7H162.57V306.18H163.37V304.74H164.16V304.74H164.95V306.18H165.75V304.74H166.54V306.18H167.33V307.7H168.12V306.18H168.92V307.7H169.71V307.7H170.5V306.18H171.3V309.32H172.09V311.05H172.88V311.05H173.67V317.1H174.47V325.1H175.26V328.45H176.05V404.3Z"/>
<path fill="none" stroke="rgba(170,0,0,0.55)" stroke-width="0.7" clip-path="url(#c20)" d="M119.76 349.72V402.3M122.93 359.9V361.86M126.1 342.5V356.26M129.28 342.5V344.46M132.45 332.32V341.51M135.62 336.9V338.86M138.79 328.45V332.28M141.96 325.1V332.28M146.72 319.5V324.11M149.89 317.1V319.07M153.06 312.91V317.95M156.23 309.32V314.88M160.99 307.7V309.66M164.16 304.74V308.14M170.5 307.7V309.66"/>
<path fill="rgba(0,0,255,0.63)" clip-path="url(#c20)" d="M120.51 404.3V369.08H122.22V361.86H123.94V356.26H125.65V356.26H127.37V347.81H129.08V344.46H130.8V341.51H132.51V334.28H134.23V338.86H135.94V334.28H137.66V332.28H139.37V332.28H141.09V332.28H142.8V328.68H144.52V322.75H146.23V324.11H147.95V324.11H149.66V319.07H151.37V317.95H153.09V316.89H154.8V314.88H156.52V310.46H158.23V308.89H159.95V309.66H161.66V308.89H163.38V308.14H165.09V308.14H166.81V308.14H168.52V307.41H170.24V309.66H171.95V309.66H173.67V311.28H175.38V313.93H177.1V320.24H178.81V328.68H180.53V347.81H182.24V404.3ZM242.26 404.3V396.66H243.97V404.3Z"/>
<path fill="none" stroke="rgba(0,0,150,0.45)" stroke-width="0.7" clip-path="url(#c20)" d="M175.38 313.93V328.45M178.81 328.68V402.3"/>
<path fill="none" stroke="rgba(255,255,255,0.13)" stroke-width="0.8" clip-path="url(#c20)" d="M122.22 369.08V402.3M125.65 356.26V402.3M129.08 347.81V402.3M132.51 341.51V402.3M135.94 338.86V402.3M139.37 332.28V402.3M142.8 332.28V402.3M146.23 324.11V402.3M149.66 324.11V402.3M153.09 317.95V402.3M156.52 314.88V402.3M159.95 309.66V402.3M163.38 308.89V402.3M166.81 308.14V402.3M170.24 309.66V402.3M173.67 311.28V402.3"/>
<line x1="126.9" y1="402.3" x2="126.9" y2="403.9" stroke="#444" stroke-width="0.6"/>
<text x="126.9" y="411.8" font-size="8.5" text-anchor="middle" fill="#1a1a1a" stroke="#1a1a1a" stroke-width="0.12">2</text>
<line x1="155.95" y1="402.3" x2="155.95" y2="403.9" stroke="#444" stroke-width="0.6"/>
<text x="155.95" y="411.8" font-size="8.5" text-anchor="middle" fill="#1a1a1a" stroke="#1a1a1a" stroke-width="0.12">3</text>
<line x1="185" y1="402.3" x2="185" y2="403.9" stroke="#444" stroke-width="0.6"/>
<text x="185" y="411.8" font-size="8.5" text-anchor="middle" fill="#1a1a1a" stroke="#1a1a1a" stroke-width="0.12">4</text>
<line x1="214.05" y1="402.3" x2="214.05" y2="403.9" stroke="#444" stroke-width="0.6"/>
<text x="214.05" y="411.8" font-size="8.5" text-anchor="middle" fill="#1a1a1a" stroke="#1a1a1a" stroke-width="0.12">5</text>
<line x1="243.1" y1="402.3" x2="243.1" y2="403.9" stroke="#444" stroke-width="0.6"/>
<text x="243.1" y="411.8" font-size="8.5" text-anchor="middle" fill="#1a1a1a" stroke="#1a1a1a" stroke-width="0.12">6</text>
<line x1="111.8" y1="303.5" x2="113" y2="303.5" stroke="#aaa" stroke-width="0.5"/>
<line x1="111.8" y1="361.3" x2="113" y2="361.3" stroke="#aaa" stroke-width="0.5"/>
<line x1="111.8" y1="343.9" x2="113" y2="343.9" stroke="#aaa" stroke-width="0.5"/>
<line x1="111.8" y1="333.72" x2="113" y2="333.72" stroke="#aaa" stroke-width="0.5"/>
<line x1="111.8" y1="326.5" x2="113" y2="326.5" stroke="#aaa" stroke-width="0.5"/>
<line x1="111.8" y1="320.9" x2="113" y2="320.9" stroke="#aaa" stroke-width="0.5"/>
<line x1="111.8" y1="316.32" x2="113" y2="316.32" stroke="#aaa" stroke-width="0.5"/>
<line x1="111.8" y1="312.45" x2="113" y2="312.45" stroke="#aaa" stroke-width="0.5"/>
<line x1="111.8" y1="309.1" x2="113" y2="309.1" stroke="#aaa" stroke-width="0.5"/>
<line x1="111.8" y1="306.14" x2="113" y2="306.14" stroke="#aaa" stroke-width="0.5"/>
<line x1="111.8" y1="401.7" x2="113" y2="401.7" stroke="#aaa" stroke-width="0.5"/>
<line x1="111.8" y1="391.52" x2="113" y2="391.52" stroke="#aaa" stroke-width="0.5"/>
<line x1="111.8" y1="384.3" x2="113" y2="384.3" stroke="#aaa" stroke-width="0.5"/>
<line x1="111.8" y1="378.7" x2="113" y2="378.7" stroke="#aaa" stroke-width="0.5"/>
<line x1="111.8" y1="374.12" x2="113" y2="374.12" stroke="#aaa" stroke-width="0.5"/>
<line x1="111.8" y1="370.25" x2="113" y2="370.25" stroke="#aaa" stroke-width="0.5"/>
<line x1="111.8" y1="366.9" x2="113" y2="366.9" stroke="#aaa" stroke-width="0.5"/>
<line x1="111.8" y1="363.94" x2="113" y2="363.94" stroke="#aaa" stroke-width="0.5"/>
<text x="109.5" y="306.5" font-size="8.5" text-anchor="end" fill="#1a1a1a" stroke="#1a1a1a" stroke-width="0.12">10<tspan font-size="6" dy="-3.4">0</tspan></text>
<text x="109.5" y="364.3" font-size="8.5" text-anchor="end" fill="#1a1a1a" stroke="#1a1a1a" stroke-width="0.12">10<tspan font-size="6" dy="-3.4">−1</tspan></text>
<text transform="translate(88.5,350.95) rotate(-90)" font-size="8.5" text-anchor="middle" fill="#1a1a1a" stroke="#1a1a1a" stroke-width="0.12">log<tspan font-size="6" dy="1.7">10</tspan><tspan dy="-1.7" dx="1.4">(</tspan><tspan font-style="italic">ESD</tspan>)</text>
<text x="181.65" y="420.5" font-size="8.5" text-anchor="middle" fill="#1a1a1a" stroke="#1a1a1a" stroke-width="0.12">log<tspan font-size="6" dy="1.7">10</tspan><tspan dy="-1.7" dx="1.8">(</tspan><tspan font-style="italic" dx="0.4">λ</tspan><tspan font-size="6" font-style="italic" dy="1.5">i</tspan><tspan dy="-1.5" dx="0.9">)</tspan></text>
<rect x="213" y="302.6" width="34.3" height="16.8" rx="1.2" fill="rgba(255,255,255,0.85)" stroke="#dedede" stroke-width="0.7"/>
<rect x="215.5" y="304.5" width="10.8" height="3.7" fill="rgba(255,0,0,0.6)"/>
<rect x="215.5" y="312.3" width="10.8" height="3.7" fill="rgba(0,0,255,0.6)"/>
<text x="230.5" y="309.1" font-size="6" fill="#1a1a1a" stroke="#1a1a1a" stroke-width="0.15">initial</text>
<text x="230.5" y="317.1" font-size="6" fill="#1a1a1a" stroke="#1a1a1a" stroke-width="0.15">step1</text>
<clipPath id="c21"><rect x="302.4" y="299.5" width="137.1" height="102.8"/></clipPath>
<rect x="302.4" y="299.5" width="137.1" height="102.8" fill="none" stroke="#ececec" stroke-width="0.8"/>
<path fill="rgba(255,0,0,0.63)" clip-path="url(#c21)" d="M307.37 404.3V354.6H308.23V354.6H309.08V354.6H309.93V354.6H310.78V365.85H311.64V354.6H312.49V365.85H313.34V346.61H314.19V346.61H315.05V340.42H315.9V346.61H316.75V340.42H317.6V346.61H318.45V340.42H319.31V340.42H320.16V335.36H321.01V335.36H321.86V335.36H322.72V340.42H323.57V340.42H324.42V340.42H325.27V331.08H326.13V331.08H326.98V331.08H327.83V331.08H328.68V331.08H329.53V327.38H330.39V324.11H331.24V327.38H332.09V327.38H332.94V327.38H333.8V324.11H334.65V321.19H335.5V324.11H336.35V321.19H337.21V321.19H338.06V321.19H338.91V321.19H339.76V318.54H340.61V318.54H341.47V316.13H342.32V316.13H343.17V313.9H344.02V313.9H344.88V309.93H345.73V311.85H346.58V309.93H347.43V309.93H348.29V309.93H349.14V311.85H349.99V311.85H350.84V309.93H351.69V308.14H352.55V308.14H353.4V308.14H354.25V306.46H355.1V304.87H355.96V304.87H356.81V306.46H357.66V304.87H358.51V306.46H359.37V308.14H360.22V306.46H361.07V308.14H361.92V308.14H362.77V306.46H363.63V309.93H364.48V311.85H365.33V311.85H366.18V318.54H367.04V327.38H367.89V331.08H368.74V404.3Z"/>
<path fill="none" stroke="rgba(170,0,0,0.55)" stroke-width="0.7" clip-path="url(#c21)" d="M308.23 354.6V402.3M311.64 365.85V402.3M315.05 346.61V402.3M318.45 346.61V402.3M321.86 335.36V402.3M325.27 340.42V402.3M328.68 331.08V402.3M332.09 327.38V402.3M335.5 324.11V402.3M338.91 321.19V402.3M342.32 316.13V358.03M345.73 311.85V351.84M349.14 311.85V342.5M352.55 308.14V342.5M355.96 304.87V332.6M359.37 308.14V338.79M362.77 308.14V332.6M366.18 318.54V329.96"/>
<path fill="rgba(0,0,255,0.63)" clip-path="url(#c21)" d="M340.1 404.3V366.01H341.39V358.03H342.68V358.03H343.96V358.03H345.25V351.84H346.53V351.84H347.82V342.5H349.11V342.5H350.39V342.5H351.68V342.5H352.96V342.5H354.25V332.6H355.54V332.6H356.82V332.6H358.11V338.79H359.39V335.53H360.68V329.96H361.97V332.6H363.25V332.6H364.54V329.96H365.82V329.96H367.11V332.6H368.4V329.96H369.68V329.96H370.97V327.54H372.25V329.96H373.54V329.96H374.83V329.96H376.11V325.32H377.4V325.32H378.69V327.54H379.97V321.35H381.26V319.56H382.54V325.32H383.83V323.26H385.12V327.54H386.4V323.26H387.69V321.35H388.97V317.88H390.26V323.26H391.55V319.56H392.83V323.26H394.12V323.26H395.4V323.26H396.69V327.54H397.98V325.32H399.26V327.54H400.55V321.35H401.83V323.26H403.12V323.26H404.41V323.26H405.69V327.54H406.98V325.32H408.26V327.54H409.55V329.96H410.84V329.96H412.12V325.32H413.41V327.54H414.7V332.6H415.98V332.6H417.27V342.5H418.55V335.53H419.84V342.5H421.13V342.5H422.41V338.79H423.7V351.84H424.98V335.53H426.27V346.78H427.56V351.84H428.84V366.01H430.13V396.5H431.41V396.5H432.7V404.3Z"/>
<path fill="none" stroke="rgba(0,0,150,0.45)" stroke-width="0.7" clip-path="url(#c21)" d="M369.68 329.96V402.3M373.54 329.96V402.3M377.4 325.32V402.3M381.26 321.35V402.3M385.12 327.54V402.3M388.97 321.35V402.3M392.83 323.26V402.3M396.69 327.54V402.3M400.55 327.54V402.3M404.41 323.26V402.3M408.26 327.54V402.3M412.12 329.96V402.3M415.98 332.6V402.3M419.84 342.5V402.3M423.7 351.84V402.3M427.56 351.84V402.3M431.41 396.5V402.3"/>
<path fill="none" stroke="rgba(255,255,255,0.13)" stroke-width="0.8" clip-path="url(#c21)" d="M341.39 366.01V402.3M345.25 358.03V402.3M349.11 342.5V402.3M352.96 342.5V402.3M356.82 332.6V402.3M360.68 335.53V402.3M364.54 332.6V402.3M368.4 332.6V402.3"/>
<line x1="315.9" y1="402.3" x2="315.9" y2="403.9" stroke="#444" stroke-width="0.6"/>
<text x="315.9" y="411.8" font-size="8.5" text-anchor="middle" fill="#1a1a1a" stroke="#1a1a1a" stroke-width="0.12">2</text>
<line x1="347.13" y1="402.3" x2="347.13" y2="403.9" stroke="#444" stroke-width="0.6"/>
<text x="347.13" y="411.8" font-size="8.5" text-anchor="middle" fill="#1a1a1a" stroke="#1a1a1a" stroke-width="0.12">3</text>
<line x1="378.36" y1="402.3" x2="378.36" y2="403.9" stroke="#444" stroke-width="0.6"/>
<text x="378.36" y="411.8" font-size="8.5" text-anchor="middle" fill="#1a1a1a" stroke="#1a1a1a" stroke-width="0.12">4</text>
<line x1="409.59" y1="402.3" x2="409.59" y2="403.9" stroke="#444" stroke-width="0.6"/>
<text x="409.59" y="411.8" font-size="8.5" text-anchor="middle" fill="#1a1a1a" stroke="#1a1a1a" stroke-width="0.12">5</text>
<line x1="301.2" y1="303.5" x2="302.4" y2="303.5" stroke="#aaa" stroke-width="0.5"/>
<line x1="301.2" y1="367.4" x2="302.4" y2="367.4" stroke="#aaa" stroke-width="0.5"/>
<line x1="301.2" y1="348.16" x2="302.4" y2="348.16" stroke="#aaa" stroke-width="0.5"/>
<line x1="301.2" y1="336.91" x2="302.4" y2="336.91" stroke="#aaa" stroke-width="0.5"/>
<line x1="301.2" y1="328.93" x2="302.4" y2="328.93" stroke="#aaa" stroke-width="0.5"/>
<line x1="301.2" y1="322.74" x2="302.4" y2="322.74" stroke="#aaa" stroke-width="0.5"/>
<line x1="301.2" y1="317.68" x2="302.4" y2="317.68" stroke="#aaa" stroke-width="0.5"/>
<line x1="301.2" y1="313.4" x2="302.4" y2="313.4" stroke="#aaa" stroke-width="0.5"/>
<line x1="301.2" y1="309.69" x2="302.4" y2="309.69" stroke="#aaa" stroke-width="0.5"/>
<line x1="301.2" y1="306.42" x2="302.4" y2="306.42" stroke="#aaa" stroke-width="0.5"/>
<line x1="301.2" y1="400.81" x2="302.4" y2="400.81" stroke="#aaa" stroke-width="0.5"/>
<line x1="301.2" y1="392.83" x2="302.4" y2="392.83" stroke="#aaa" stroke-width="0.5"/>
<line x1="301.2" y1="386.64" x2="302.4" y2="386.64" stroke="#aaa" stroke-width="0.5"/>
<line x1="301.2" y1="381.58" x2="302.4" y2="381.58" stroke="#aaa" stroke-width="0.5"/>
<line x1="301.2" y1="377.3" x2="302.4" y2="377.3" stroke="#aaa" stroke-width="0.5"/>
<line x1="301.2" y1="373.59" x2="302.4" y2="373.59" stroke="#aaa" stroke-width="0.5"/>
<line x1="301.2" y1="370.32" x2="302.4" y2="370.32" stroke="#aaa" stroke-width="0.5"/>
<text x="298.9" y="306.5" font-size="8.5" text-anchor="end" fill="#1a1a1a" stroke="#1a1a1a" stroke-width="0.12">10<tspan font-size="6" dy="-3.4">0</tspan></text>
<text x="298.9" y="370.4" font-size="8.5" text-anchor="end" fill="#1a1a1a" stroke="#1a1a1a" stroke-width="0.12">10<tspan font-size="6" dy="-3.4">−1</tspan></text>
<text transform="translate(277.9,350.9) rotate(-90)" font-size="8.5" text-anchor="middle" fill="#1a1a1a" stroke="#1a1a1a" stroke-width="0.12">log<tspan font-size="6" dy="1.7">10</tspan><tspan dy="-1.7" dx="1.4">(</tspan><tspan font-style="italic">ESD</tspan>)</text>
<text x="370.95" y="420.5" font-size="8.5" text-anchor="middle" fill="#1a1a1a" stroke="#1a1a1a" stroke-width="0.12">log<tspan font-size="6" dy="1.7">10</tspan><tspan dy="-1.7" dx="1.8">(</tspan><tspan font-style="italic" dx="0.4">λ</tspan><tspan font-size="6" font-style="italic" dy="1.5">i</tspan><tspan dy="-1.5" dx="0.9">)</tspan></text>
<rect x="396" y="302.5" width="40.5" height="16.8" rx="1.2" fill="rgba(255,255,255,0.85)" stroke="#dedede" stroke-width="0.7"/>
<rect x="398.5" y="304.4" width="10.8" height="3.7" fill="rgba(255,0,0,0.6)"/>
<rect x="398.5" y="312.2" width="10.8" height="3.7" fill="rgba(0,0,255,0.6)"/>
<text x="413.5" y="309" font-size="6" fill="#1a1a1a" stroke="#1a1a1a" stroke-width="0.15">initial</text>
<text x="413.5" y="317" font-size="6" fill="#1a1a1a" stroke="#1a1a1a" stroke-width="0.15">step100</text>
<clipPath id="c22"><rect x="490.9" y="299.4" width="137" height="102.9"/></clipPath>
<rect x="490.9" y="299.4" width="137" height="102.9" fill="none" stroke="#ececec" stroke-width="0.8"/>
<path fill="rgba(255,0,0,0.63)" clip-path="url(#c22)" d="M496.37 404.3V354.52H497.23V354.52H498.08V354.52H498.93V354.52H499.78V354.52H500.64V365.75H501.49V354.52H502.34V346.55H503.19V346.55H504.05V346.55H504.9V346.55H505.75V340.36H506.6V340.36H507.45V340.36H508.31V340.36H509.16V335.31H510.01V340.36H510.86V335.31H511.72V335.31H512.57V335.31H513.42V335.31H514.27V335.31H515.13V335.31H515.98V335.31H516.83V331.04H517.68V331.04H518.53V331.04H519.39V324.08H520.24V324.08H521.09V324.08H521.94V327.34H522.8V327.34H523.65V327.34H524.5V324.08H525.35V321.16H526.21V321.16H527.06V321.16H527.91V321.16H528.76V321.16H529.61V316.11H530.47V316.11H531.32V316.11H532.17V311.83H533.02V313.89H533.88V311.83H534.73V309.92H535.58V311.83H536.43V311.83H537.29V311.83H538.14V308.13H538.99V308.13H539.84V308.13H540.69V306.45H541.55V308.13H542.4V308.13H543.25V304.87H544.1V306.45H544.96V304.87H545.81V306.45H546.66V304.87H547.51V306.45H548.37V308.13H549.22V306.45H550.07V308.13H550.92V306.45H551.77V309.92H552.63V309.92H553.48V309.92H554.33V313.89H555.18V313.89H556.04V324.08H556.89V340.36H557.74V404.3Z"/>
<path fill="none" stroke="rgba(170,0,0,0.55)" stroke-width="0.7" clip-path="url(#c22)" d="M497.23 354.52V402.3M500.64 365.75V402.3M504.05 346.55V402.3M507.45 340.36V402.3M510.86 340.36V402.3M514.27 335.31V402.3M517.68 331.04V402.3M521.09 324.08V402.3M524.5 327.34V402.3M527.91 321.16V402.3M531.32 316.11V396.36M534.73 311.83V357.94M538.14 311.83V342.44M541.55 308.13V338.74M544.96 306.45V335.48M548.37 308.13V338.74M551.77 309.92V329.92M555.18 313.89V327.5"/>
<path fill="rgba(0,0,255,0.63)" clip-path="url(#c22)" d="M529.1 404.3V365.92H530.39V396.36H531.68V377.15H532.96V365.92H534.25V357.94H535.53V351.76H536.82V351.76H538.11V342.44H539.39V342.44H540.68V338.74H541.96V342.44H543.25V342.44H544.54V335.48H545.82V332.56H547.11V338.74H548.39V342.44H549.68V338.74H550.97V329.92H552.25V335.48H553.54V332.56H554.82V327.5H556.11V329.92H557.4V335.48H558.68V327.5H559.97V329.92H561.25V327.5H562.54V332.56H563.83V327.5H565.11V325.29H566.4V327.5H567.69V329.92H568.97V327.5H570.26V319.53H571.54V323.23H572.83V325.29H574.12V321.32H575.4V325.29H576.69V323.23H577.97V325.29H579.26V321.32H580.55V321.32H581.83V317.85H583.12V323.23H584.4V323.23H585.69V325.29H586.98V321.32H588.26V325.29H589.55V323.23H590.83V325.29H592.12V319.53H593.41V327.5H594.69V329.92H595.98V325.29H597.26V327.5H598.55V327.5H599.84V325.29H601.12V327.5H602.41V329.92H603.7V327.5H604.98V335.48H606.27V329.92H607.55V338.74H608.84V335.48H610.13V346.71H611.41V342.44H612.7V338.74H613.98V338.74H615.27V346.71H616.56V365.92H617.84V365.92H619.13V377.15H620.41V396.36H621.7V404.3Z"/>
<path fill="none" stroke="rgba(0,0,150,0.45)" stroke-width="0.7" clip-path="url(#c22)" d="M557.4 335.48V340.36M561.25 329.92V402.3M565.11 327.5V402.3M568.97 329.92V402.3M572.83 325.29V402.3M576.69 325.29V402.3M580.55 321.32V402.3M584.4 323.23V402.3M588.26 325.29V402.3M592.12 325.29V402.3M595.98 329.92V402.3M599.84 327.5V402.3M603.7 329.92V402.3M607.55 338.74V402.3M611.41 346.71V402.3M615.27 346.71V402.3M619.13 377.15V402.3"/>
<path fill="none" stroke="rgba(255,255,255,0.13)" stroke-width="0.8" clip-path="url(#c22)" d="M530.39 396.36V402.3M534.25 365.92V402.3M538.11 351.76V402.3M541.96 342.44V402.3M545.82 335.48V402.3M549.68 342.44V402.3M553.54 335.48V402.3M557.4 340.36V402.3"/>
<line x1="490.9" y1="299.4" x2="490.9" y2="402.3" stroke="#8a8a8a" stroke-width="1.3"/>
<line x1="504.9" y1="402.3" x2="504.9" y2="403.9" stroke="#444" stroke-width="0.6"/>
<text x="504.9" y="411.8" font-size="8.5" text-anchor="middle" fill="#1a1a1a" stroke="#1a1a1a" stroke-width="0.12">2</text>
<line x1="536.13" y1="402.3" x2="536.13" y2="403.9" stroke="#444" stroke-width="0.6"/>
<text x="536.13" y="411.8" font-size="8.5" text-anchor="middle" fill="#1a1a1a" stroke="#1a1a1a" stroke-width="0.12">3</text>
<line x1="567.36" y1="402.3" x2="567.36" y2="403.9" stroke="#444" stroke-width="0.6"/>
<text x="567.36" y="411.8" font-size="8.5" text-anchor="middle" fill="#1a1a1a" stroke="#1a1a1a" stroke-width="0.12">4</text>
<line x1="598.59" y1="402.3" x2="598.59" y2="403.9" stroke="#444" stroke-width="0.6"/>
<text x="598.59" y="411.8" font-size="8.5" text-anchor="middle" fill="#1a1a1a" stroke="#1a1a1a" stroke-width="0.12">5</text>
<line x1="489.7" y1="303.5" x2="490.9" y2="303.5" stroke="#aaa" stroke-width="0.5"/>
<line x1="489.7" y1="367.3" x2="490.9" y2="367.3" stroke="#aaa" stroke-width="0.5"/>
<line x1="489.7" y1="348.09" x2="490.9" y2="348.09" stroke="#aaa" stroke-width="0.5"/>
<line x1="489.7" y1="336.86" x2="490.9" y2="336.86" stroke="#aaa" stroke-width="0.5"/>
<line x1="489.7" y1="328.89" x2="490.9" y2="328.89" stroke="#aaa" stroke-width="0.5"/>
<line x1="489.7" y1="322.71" x2="490.9" y2="322.71" stroke="#aaa" stroke-width="0.5"/>
<line x1="489.7" y1="317.65" x2="490.9" y2="317.65" stroke="#aaa" stroke-width="0.5"/>
<line x1="489.7" y1="313.38" x2="490.9" y2="313.38" stroke="#aaa" stroke-width="0.5"/>
<line x1="489.7" y1="309.68" x2="490.9" y2="309.68" stroke="#aaa" stroke-width="0.5"/>
<line x1="489.7" y1="306.42" x2="490.9" y2="306.42" stroke="#aaa" stroke-width="0.5"/>
<line x1="489.7" y1="400.66" x2="490.9" y2="400.66" stroke="#aaa" stroke-width="0.5"/>
<line x1="489.7" y1="392.69" x2="490.9" y2="392.69" stroke="#aaa" stroke-width="0.5"/>
<line x1="489.7" y1="386.51" x2="490.9" y2="386.51" stroke="#aaa" stroke-width="0.5"/>
<line x1="489.7" y1="381.45" x2="490.9" y2="381.45" stroke="#aaa" stroke-width="0.5"/>
<line x1="489.7" y1="377.18" x2="490.9" y2="377.18" stroke="#aaa" stroke-width="0.5"/>
<line x1="489.7" y1="373.48" x2="490.9" y2="373.48" stroke="#aaa" stroke-width="0.5"/>
<line x1="489.7" y1="370.22" x2="490.9" y2="370.22" stroke="#aaa" stroke-width="0.5"/>
<text x="487.4" y="306.5" font-size="8.5" text-anchor="end" fill="#1a1a1a" stroke="#1a1a1a" stroke-width="0.12">10<tspan font-size="6" dy="-3.4">0</tspan></text>
<text x="487.4" y="370.3" font-size="8.5" text-anchor="end" fill="#1a1a1a" stroke="#1a1a1a" stroke-width="0.12">10<tspan font-size="6" dy="-3.4">−1</tspan></text>
<text transform="translate(466.4,350.85) rotate(-90)" font-size="8.5" text-anchor="middle" fill="#1a1a1a" stroke="#1a1a1a" stroke-width="0.12">log<tspan font-size="6" dy="1.7">10</tspan><tspan dy="-1.7" dx="1.4">(</tspan><tspan font-style="italic">ESD</tspan>)</text>
<text x="559.4" y="420.5" font-size="8.5" text-anchor="middle" fill="#1a1a1a" stroke="#1a1a1a" stroke-width="0.12">log<tspan font-size="6" dy="1.7">10</tspan><tspan dy="-1.7" dx="1.8">(</tspan><tspan font-style="italic" dx="0.4">λ</tspan><tspan font-size="6" font-style="italic" dy="1.5">i</tspan><tspan dy="-1.5" dx="0.9">)</tspan></text>
<rect x="577.1" y="302.4" width="47.8" height="16.8" rx="1.2" fill="rgba(255,255,255,0.85)" stroke="#dedede" stroke-width="0.7"/>
<rect x="579.6" y="304.3" width="10.8" height="3.7" fill="rgba(255,0,0,0.6)"/>
<rect x="579.6" y="312.1" width="10.8" height="3.7" fill="rgba(0,0,255,0.6)"/>
<text x="594.6" y="308.9" font-size="6" fill="#1a1a1a" stroke="#1a1a1a" stroke-width="0.15">initial</text>
<text x="594.6" y="316.9" font-size="6" fill="#1a1a1a" stroke="#1a1a1a" stroke-width="0.15">step10000</text>
<rect x="0.5" y="0.5" width="639" height="428" fill="none" stroke="#c8c8c8" stroke-width="1"/>
<rect x="1.5" y="1.5" width="637" height="426" fill="none" stroke="#3a3a3a" stroke-width="1"/>
<line x1="1" y1="30" x2="639" y2="30" stroke="#8e8e8e" stroke-width="1.6"/>
<line x1="1" y1="30" x2="78" y2="30" stroke="#5a5a5a" stroke-width="1.6"/>
<line x1="254" y1="30" x2="267" y2="30" stroke="#5a5a5a" stroke-width="1.6"/>
<line x1="443" y1="30" x2="456" y2="30" stroke="#5a5a5a" stroke-width="1.6"/>
<line x1="632" y1="30" x2="639" y2="30" stroke="#5a5a5a" stroke-width="1.6"/>
<line x1="71.5" y1="1" x2="71.5" y2="428" stroke="#3c3c3c" stroke-width="1.2"/>
<text x="149.5" y="22" font-family="Liberation Serif, serif" font-size="16" font-style="italic" fill="#111">t</text>
<rect x="159.7" y="15.2" width="10.3" height="0.85" fill="#111"/><rect x="159.7" y="18.2" width="10.3" height="0.85" fill="#111"/>
<text x="175.6" y="22" font-family="Liberation Serif, serif" font-size="16" fill="#111">1</text>
<text x="330.5" y="22" font-family="Liberation Serif, serif" font-size="16" font-style="italic" fill="#111">t</text>
<rect x="340.9" y="15.2" width="10.3" height="0.85" fill="#111"/><rect x="340.9" y="18.2" width="10.3" height="0.85" fill="#111"/>
<text x="356.8" y="22" font-family="Liberation Serif, serif" font-size="16" fill="#111">100</text>
<text x="511.3" y="22" font-family="Liberation Serif, serif" font-size="16" font-style="italic" fill="#111">t</text>
<rect x="522.2" y="15.2" width="10.7" height="0.85" fill="#111"/><rect x="522.2" y="18.2" width="10.7" height="0.85" fill="#111"/>
<text x="537.8" y="22" font-family="Liberation Serif, serif" font-size="16" fill="#111">10000</text>
<text x="8" y="113.3" font-family="Liberation Serif, serif" font-size="16" font-style="italic" fill="#111">η</text>
<rect x="21" y="107.2" width="10.8" height="0.85" fill="#111"/><rect x="21" y="110.2" width="10.8" height="0.85" fill="#111"/>
<text x="36.8" y="113.3" font-family="Liberation Serif, serif" font-size="16" fill="#111">0.01</text>
<text x="12.5" y="245.8" font-family="Liberation Serif, serif" font-size="16" font-style="italic" fill="#111">η</text>
<rect x="25" y="239.7" width="10.5" height="0.85" fill="#111"/><rect x="25" y="242.7" width="10.5" height="0.85" fill="#111"/>
<text x="40.5" y="245.8" font-family="Liberation Serif, serif" font-size="16" fill="#111">0.1</text>
<text x="18" y="378.8" font-family="Liberation Serif, serif" font-size="16" font-style="italic" fill="#111">η</text>
<rect x="31.2" y="372.2" width="10.3" height="0.85" fill="#111"/><rect x="31.2" y="375.2" width="10.3" height="0.85" fill="#111"/>
<text x="47" y="378.8" font-family="Liberation Serif, serif" font-size="16" fill="#111">1</text>
</svg></body></html>
